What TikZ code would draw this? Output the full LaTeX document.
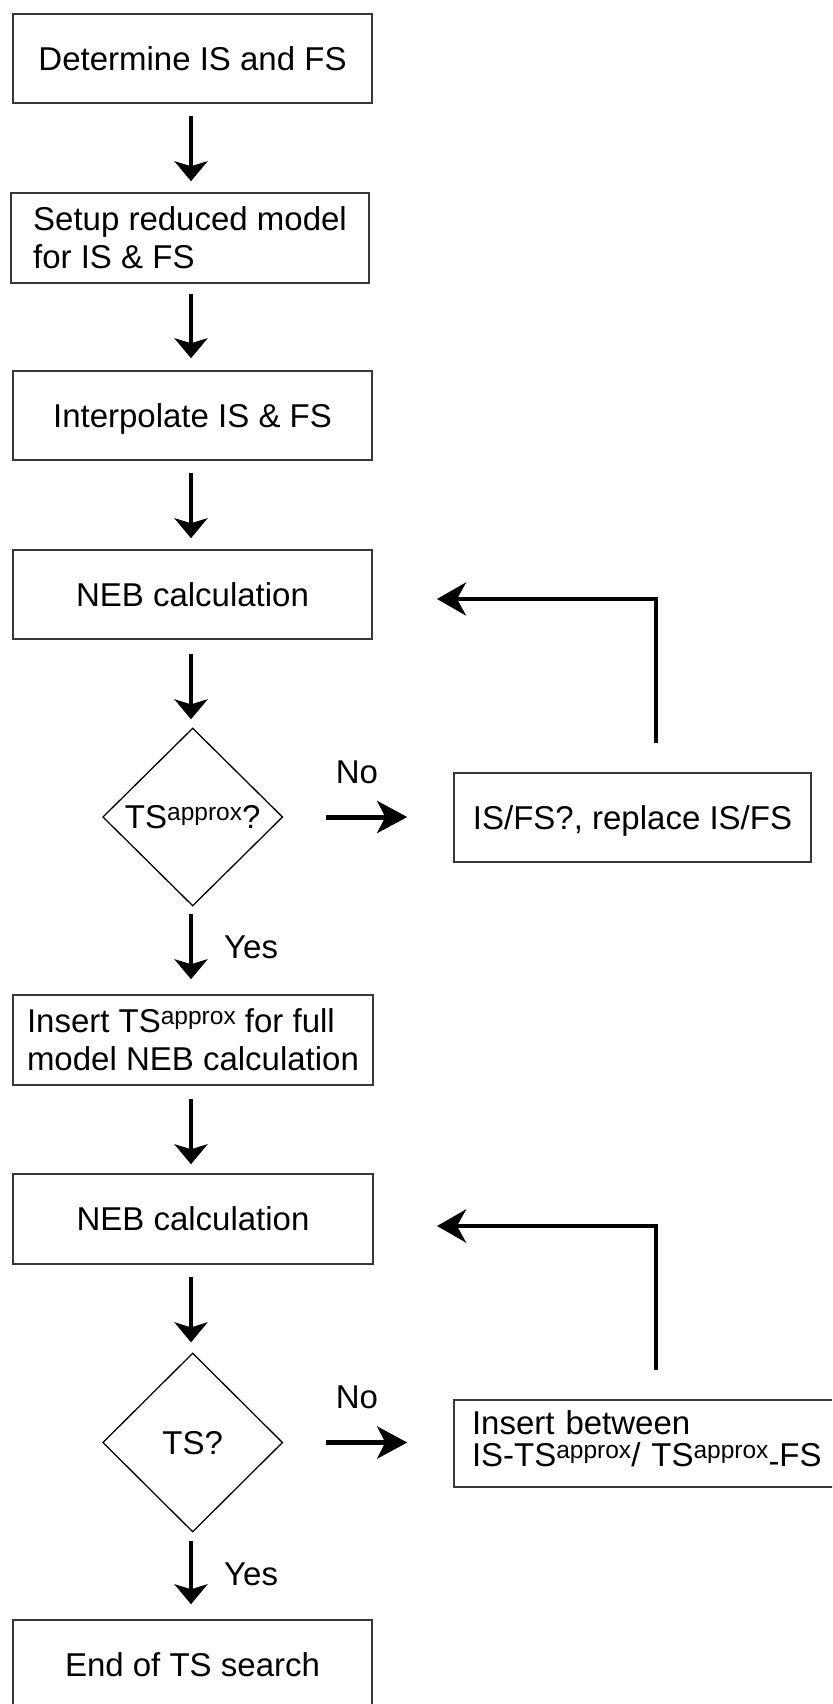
\documentclass[tikz,border=0pt]{standalone}
\usepackage{fontspec}
\setmainfont{Liberation Sans}
\usetikzlibrary{arrows.meta,shapes.geometric,calc}
\newcommand\apx{\raisebox{8.5pt}{\fontsize{24.5}{24.5}\selectfont approx}}
\tikzset{
  box/.style={draw=black!78, line width=1.5pt, rectangle, minimum height=89pt,
    inner sep=0pt, font=\fontsize{33}{38}\selectfont},
  one/.style={text height=23.6pt, text depth=0pt},
  dec/.style={draw, diamond, line width=1.3pt, inner sep=0pt, minimum width=180pt,
    minimum height=178pt, font=\fontsize{33}{38}\selectfont, text height=23.6pt, text depth=0pt},
  lbl/.style={font=\fontsize{33}{38}\selectfont, inner sep=0pt, text height=23.6pt, text depth=0pt},
  varrow/.style={line width=3.5pt, -{Stealth[length=20pt,width=33pt,inset=5pt]}},
  harrow/.style={line width=5pt, -{Stealth[length=30pt,width=32pt,inset=8pt]}},
  fback/.style={line width=4.5pt, -{Stealth[length=29pt,width=33pt,inset=9pt]}},
}
\begin{document}
\begin{tikzpicture}[x=1pt,y=-1pt]
\useasboundingbox (0,0) rectangle (832,1704);
\fill[white] (0,0) rectangle (832,1704);
\clip (0,0) rectangle (832,1704);
\coordinate (ax) at (191,0);

\node[box, one, minimum width=359pt] (b1) at (192.5,58.5) {Determine IS and FS};
\node[box, minimum width=358pt, minimum height=90pt, align=left] (b2) at (190,238) {Setup reduced model\\for IS \& FS};
\node[box, one, minimum width=359pt] (b3) at (192.5,415.5) {Interpolate IS \& FS};
\node[box, one, minimum width=359pt] (b4) at (192.5,594.5) {NEB calculation};
\node[dec] (d1) at (192.7,817) {TS\apx?};
\node[box, one, minimum width=357pt] (b5) at (632.5,817.5) {IS/FS?, replace IS/FS};
\node[box, minimum width=360pt, minimum height=90pt, align=left] (b6) at (193,1040) {Insert TS\apx{} for full\\model NEB calculation};
\node[box, one, minimum width=360pt, minimum height=90pt] (b7) at (193,1219) {NEB calculation};
\node[dec, minimum height=179pt] (d2) at (192.7,1442.5) {TS?};
\node[box, minimum height=87pt, align=left, text width=380pt, inner xsep=18pt,
  font=\fontsize{33}{32}\selectfont] (b8) at (662,1443.5)
  {Insert between\\IS-TS\apx/ TS\apx\raisebox{-6pt}{-}FS\rule[-9pt]{0pt}{9pt}};
\node[box, one, minimum width=359pt] (b9) at (192.5,1664.5) {End of TS search};

\node[lbl] (n1) at (357,771.7) {No};
\node[lbl] (n2) at (357,1396.7) {No};
\node[lbl, anchor=west] (y1) at (224,947) {Yes};
\node[lbl, anchor=west] (y2) at (224,1574) {Yes};

\draw[varrow, shorten <=12pt, shorten >=11pt] (b1.south -| ax) -- (b2.north -| ax);
\draw[varrow, shorten <=10pt, shorten >=12pt] (b2.south -| ax) -- (b3.north -| ax);
\draw[varrow, shorten <=12pt, shorten >=11pt] (b3.south -| ax) -- (b4.north -| ax);
\draw[varrow, shorten <=14pt, shorten >=8pt] (b4.south -| ax) -- (d1.north -| ax);
\draw[varrow, shorten <=7pt, shorten >=15pt] (d1.south -| ax) -- (b6.north -| ax);
\draw[varrow, shorten <=13pt, shorten >=9pt] (b6.south -| ax) -- (b7.north -| ax);
\draw[varrow, shorten <=12pt, shorten >=10pt] (b7.south -| ax) -- (d2.north -| ax);
\draw[varrow, shorten <=8pt, shorten >=15pt] (d2.south -| ax) -- (b9.north -| ax);

\draw[harrow, shorten <=43pt, shorten >=46pt] (d1.east) -- (d1.east -| b5.west);
\draw[harrow, shorten <=43pt, shorten >=46pt] (d2.east) -- (d2.east -| b8.west);

\coordinate (f1) at (656,743);
\coordinate (t1) at (437,599);
\coordinate (f2) at (656,1370);
\coordinate (t2) at (437,1226);
\draw[fback] (f1) |- (t1);
\draw[fback] (f2) |- (t2);
\end{tikzpicture}
\end{document}
